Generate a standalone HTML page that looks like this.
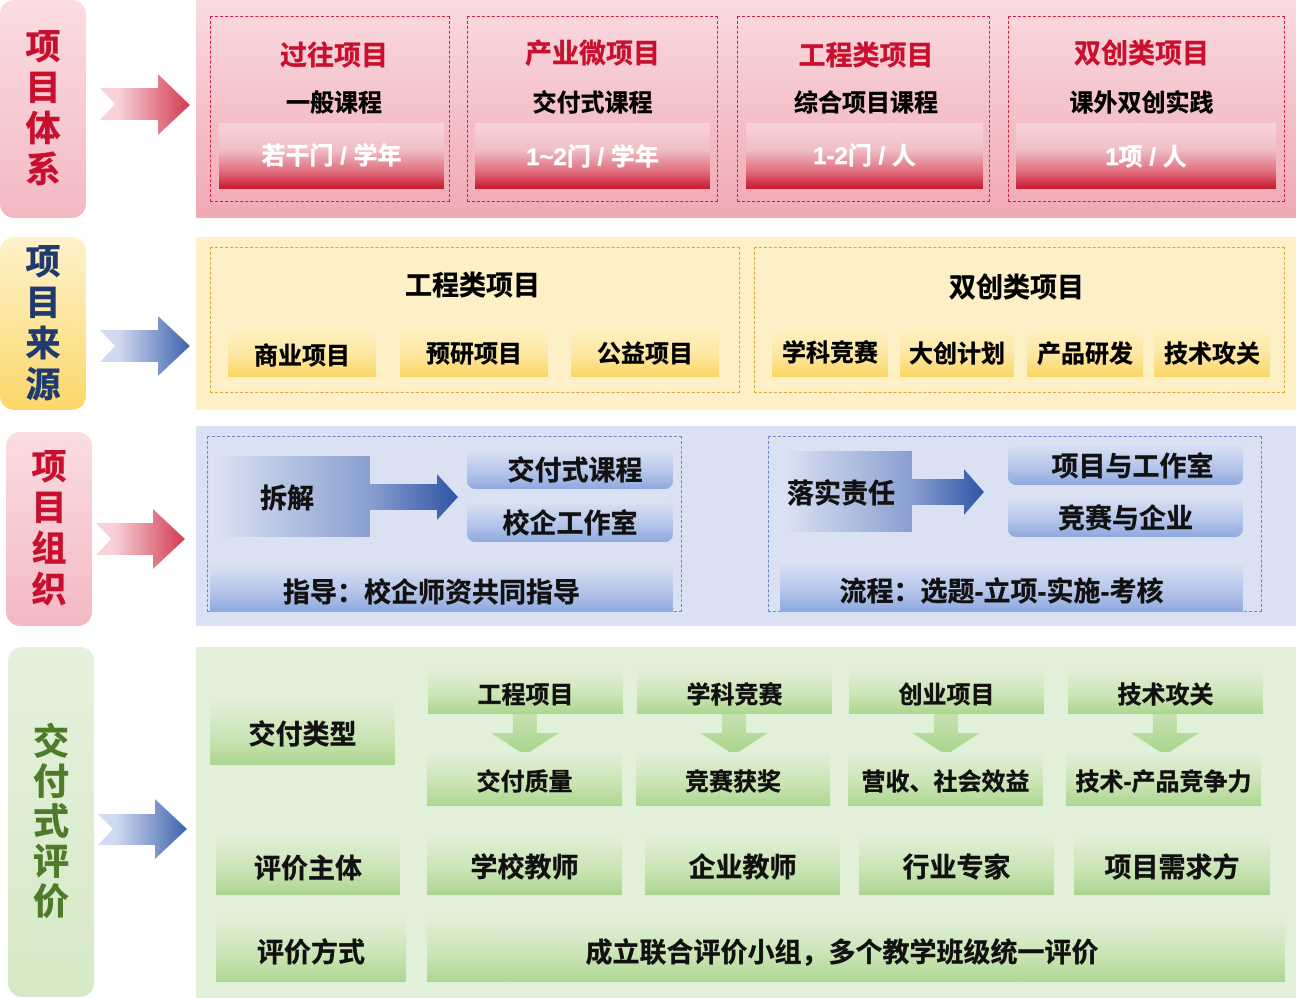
<!DOCTYPE html>
<html><head><meta charset="utf-8"><style>
*{margin:0;padding:0;box-sizing:border-box}
body{width:1296px;height:998px;position:relative;background:#fff;font-family:"Liberation Sans","Noto Sans CJK SC",sans-serif;font-weight:bold;overflow:hidden}
.a{position:absolute}
.c{position:absolute;display:flex;align-items:center;justify-content:center;white-space:nowrap;-webkit-text-stroke:0.4px currentColor}
.lbl{position:absolute;border-radius:14px;display:flex;flex-direction:column;align-items:center;justify-content:center;font-size:35px;line-height:41px;-webkit-text-stroke:0.6px currentColor}
.dash{position:absolute;border:1.5px dashed}
.rb{background:linear-gradient(#f8d3d9,#f0c0c6 40%,#e06a7a 75%,#c8182e);color:#fff;font-size:24px}
.yb{background:linear-gradient(#fef3cc,#fde7a0 60%,#fbd562);color:#000;font-size:24px}
.bb{background:linear-gradient(#dde4f4,#b4c5ea 60%,#8ea8de);color:#111;font-size:27px;border-radius:8px}
.bh{background:linear-gradient(90deg,#dde4f4,#8a9fd0);color:#111;font-size:27px}
.gb{background:linear-gradient(#e2efd9,#c9e4b3 60%,#acd68f);color:#111;font-size:24px}
</style></head><body>
<!-- Row 1 -->
<div class="lbl" style="left:0;top:0;width:86px;height:218px;background:linear-gradient(#fadde2,#f4b9c2);color:#c8102e"><span>项</span><span>目</span><span>体</span><span>系</span></div>
<svg class="a" style="left:0;top:0" width="196" height="998">
<defs>
<linearGradient id="gr" x1="0" x2="1"><stop offset="0.2" stop-color="#f7d2d8"/><stop offset="1" stop-color="#d23a52"/></linearGradient>
<linearGradient id="gbl" x1="0" x2="1"><stop offset="0.2" stop-color="#d0daf0"/><stop offset="1" stop-color="#3f63ad"/></linearGradient>
</defs>
<polygon fill="url(#gr)" points="100,88 158,88 158,74 190,105 158,135 158,120 100,120 115,104"/>
<polygon fill="url(#gbl)" points="100,330 158,330 158,316 190,346 158,376 158,362 100,362 115,346"/>
<polygon fill="url(#gr)" points="96,523 153,523 153,509 185,539 153,569 153,555 96,555 111,539"/>
<polygon fill="url(#gbl)" points="98,814 155,814 155,799 187,829 155,859 155,845 98,845 113,829"/>
</svg>
<div class="a" style="left:196px;top:0;width:1100px;height:218px;background:linear-gradient(#f9dbe0,#f1a9b3)"></div>
<div class="dash" style="left:210px;top:16px;width:240px;height:186px;border-color:#d02040"></div>
<div class="dash" style="left:467px;top:16px;width:251px;height:186px;border-color:#d02040"></div>
<div class="dash" style="left:737px;top:16px;width:253px;height:186px;border-color:#d02040"></div>
<div class="dash" style="left:1008px;top:16px;width:277px;height:186px;border-color:#d02040"></div>
<div class="c" style="left:210px;top:36px;width:248px;height:34px;font-size:27px;color:#c8102e">过往项目</div>
<div class="c" style="left:467px;top:34px;width:251px;height:34px;font-size:27px;color:#c8102e">产业微项目</div>
<div class="c" style="left:737px;top:36px;width:258px;height:34px;font-size:27px;color:#c8102e">工程类项目</div>
<div class="c" style="left:1008px;top:34px;width:267px;height:34px;font-size:27px;color:#c8102e">双创类项目</div>
<div class="c" style="left:210px;top:85px;width:248px;height:30px;font-size:24px">一般课程</div>
<div class="c" style="left:467px;top:85px;width:251px;height:30px;font-size:24px">交付式课程</div>
<div class="c" style="left:737px;top:85px;width:258px;height:30px;font-size:24px">综合项目课程</div>
<div class="c" style="left:1008px;top:85px;width:267px;height:30px;font-size:24px">课外双创实践</div>
<div class="c rb" style="left:219px;top:123px;width:225px;height:66px;padding-bottom:6px">若干门 / 学年</div>
<div class="c rb" style="left:475px;top:123px;width:235px;height:66px;padding-bottom:4px">1~2门 / 学年</div>
<div class="c rb" style="left:746px;top:123px;width:237px;height:66px;padding-bottom:6px">1-2门 / 人</div>
<div class="c rb" style="left:1016px;top:123px;width:260px;height:66px;padding-bottom:4px">1项 / 人</div>
<!-- Row 2 -->
<div class="lbl" style="left:0;top:237px;width:86px;height:173px;background:linear-gradient(#fef2cc,#fcd86a);color:#1f3a6e"><span>项</span><span>目</span><span>来</span><span>源</span></div>
<div class="a" style="left:196px;top:237px;width:1100px;height:173px;background:#fdf0c6"></div>
<div class="dash" style="left:210px;top:247px;width:530px;height:146px;border-color:#d8a830"></div>
<div class="dash" style="left:754px;top:247px;width:531px;height:146px;border-color:#d8a830"></div>
<div class="c" style="left:210px;top:267px;width:525px;height:32px;font-size:27px">工程类项目</div>
<div class="c" style="left:754px;top:269px;width:525px;height:32px;font-size:27px">双创类项目</div>
<div class="c yb" style="left:228px;top:322px;width:148px;height:55px;padding-top:8px">商业项目</div>
<div class="c yb" style="left:400px;top:322px;width:148px;height:55px;padding-top:4px">预研项目</div>
<div class="c yb" style="left:571px;top:322px;width:148px;height:55px;padding-top:4px">公益项目</div>
<div class="c yb" style="left:772px;top:322px;width:116px;height:55px;padding-top:2px">学科竞赛</div>
<div class="c yb" style="left:900px;top:322px;width:114px;height:55px;padding-top:4px">大创计划</div>
<div class="c yb" style="left:1027px;top:322px;width:116px;height:55px;padding-top:4px">产品研发</div>
<div class="c yb" style="left:1154px;top:322px;width:116px;height:55px;padding-top:4px">技术攻关</div>
<!-- Row 3 -->
<div class="lbl" style="left:6px;top:432px;width:86px;height:194px;background:linear-gradient(#fadde2,#f4b9c2);color:#c8102e"><span>项</span><span>目</span><span>组</span><span>织</span></div>
<div class="a" style="left:196px;top:426px;width:1100px;height:200px;background:#d9e1f3"></div>
<div class="dash" style="left:207px;top:436px;width:475px;height:176px;border-color:#6a86c4"></div>
<div class="dash" style="left:768px;top:436px;width:494px;height:176px;border-color:#6a86c4"></div>
<div class="c bh" style="left:210px;top:456px;width:160px;height:81px;padding-right:6px">拆解</div>
<svg class="a" style="left:370px;top:474px" width="90" height="46"><defs><linearGradient id="ab" x1="0" x2="1"><stop offset="0" stop-color="#8a9fd0"/><stop offset="1" stop-color="#2e54a6"/></linearGradient></defs><polygon fill="url(#ab)" points="0,10 67,10 67,0 88,23 67,46 67,36 0,36"/></svg>
<div class="c bb" style="left:467px;top:448px;width:206px;height:41px;padding-left:10px">交付式课程</div>
<div class="c bb" style="left:467px;top:500px;width:206px;height:42px">校企工作室</div>
<div class="c bb" style="left:210px;top:562px;width:463px;height:50px;border-radius:0;padding-top:6px;padding-right:20px">指导：校企师资共同指导</div>
<div class="c bh" style="left:780px;top:451px;width:132px;height:81px;padding-right:10px">落实责任</div>
<svg class="a" style="left:912px;top:469px" width="75" height="46"><polygon fill="url(#ab)" points="0,10 52,10 52,0 72,23 52,46 52,36 0,36"/></svg>
<div class="c bb" style="left:1008px;top:443px;width:235px;height:42px;padding-left:14px">项目与工作室</div>
<div class="c bb" style="left:1008px;top:495px;width:235px;height:42px">竞赛与企业</div>
<div class="c bb" style="left:780px;top:560px;width:463px;height:52px;border-radius:0;padding-top:6px;padding-right:20px">流程：选题-立项-实施-考核</div>
<!-- Row 4 -->
<div class="lbl" style="left:8px;top:647px;width:86px;height:350px;background:linear-gradient(#e6f1dd,#d5e9c6);color:#4e7a2a;font-size:36px;line-height:40px"><span>交</span><span>付</span><span>式</span><span>评</span><span>价</span></div>
<div class="a" style="left:196px;top:647px;width:1100px;height:351px;background:#e2efd9"></div>
<div class="c gb" style="left:210px;top:700px;width:185px;height:65px;font-size:27px">交付类型</div>
<svg class="a" style="left:0;top:0" width="1296" height="998"><defs><linearGradient id="dg" x1="0" x2="0" y1="0" y2="1"><stop offset="0" stop-color="#c6e3b0"/><stop offset="1" stop-color="#a7d48a"/></linearGradient></defs>
<g fill="url(#dg)">
<polygon points="513,714 537,714 537,733 559,733 525,755 491,733 513,733"/>
<polygon points="722,714 746,714 746,733 768,733 734,755 700,733 722,733"/>
<polygon points="934,714 958,714 958,733 980,733 946,755 912,733 934,733"/>
<polygon points="1153,714 1177,714 1177,733 1199,733 1165,755 1131,733 1153,733"/>
</g></svg>
<div class="c gb" style="left:428px;top:670px;width:195px;height:44px">工程项目</div>
<div class="c gb" style="left:637px;top:670px;width:195px;height:44px">学科竞赛</div>
<div class="c gb" style="left:849px;top:670px;width:195px;height:44px">创业项目</div>
<div class="c gb" style="left:1068px;top:670px;width:195px;height:44px">技术攻关</div>
<div class="c gb" style="left:427px;top:752px;width:195px;height:54px">交付质量</div>
<div class="c gb" style="left:636px;top:752px;width:194px;height:54px">竞赛获奖</div>
<div class="c gb" style="left:848px;top:752px;width:195px;height:54px">营收、社会效益</div>
<div class="c gb" style="left:1066px;top:752px;width:195px;height:54px">技术-产品竞争力</div>
<div class="c gb" style="left:216px;top:835px;width:184px;height:60px;font-size:27px;padding-top:2px">评价主体</div>
<div class="c gb" style="left:427px;top:835px;width:195px;height:60px;font-size:27px">学校教师</div>
<div class="c gb" style="left:645px;top:835px;width:195px;height:60px;font-size:27px">企业教师</div>
<div class="c gb" style="left:859px;top:835px;width:195px;height:60px;font-size:27px">行业专家</div>
<div class="c gb" style="left:1074px;top:835px;width:196px;height:60px;font-size:27px">项目需求方</div>
<div class="c gb" style="left:216px;top:918px;width:190px;height:64px;font-size:27px">评价方式</div>
<div class="c gb" style="left:427px;top:918px;width:858px;height:64px;font-size:27px;padding-right:28px">成立联合评价小组，多个教学班级统一评价</div>
</body></html>
